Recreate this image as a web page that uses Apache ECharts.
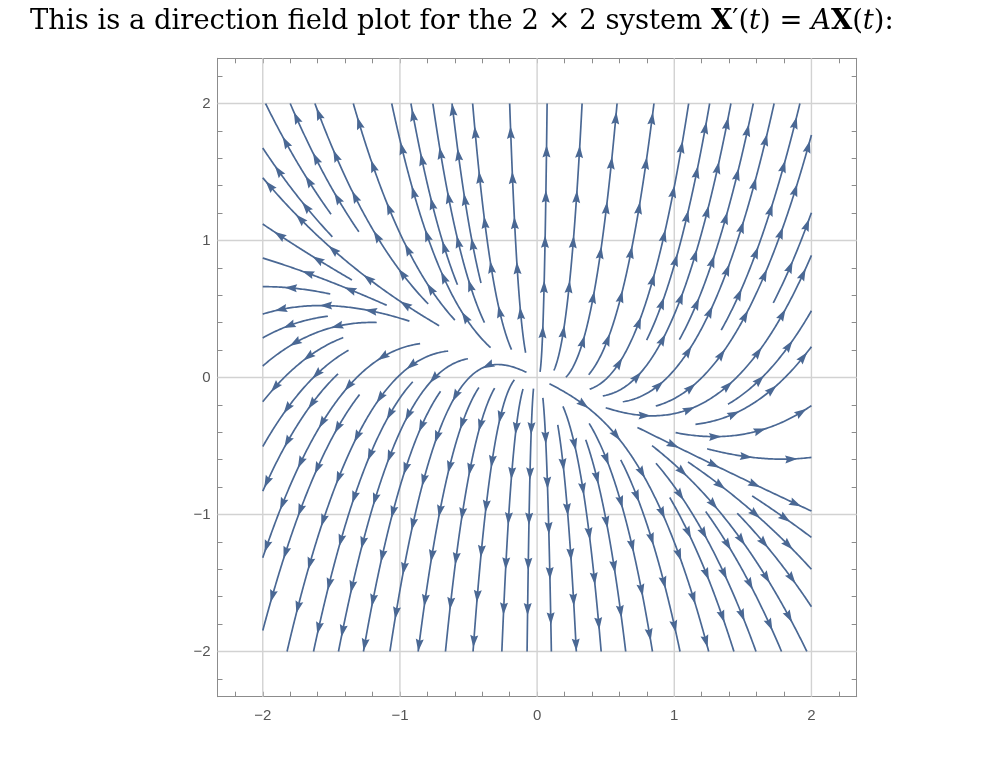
<!DOCTYPE html>
<html>
<head>
<meta charset="utf-8">
<script src="https://cdn.jsdelivr.net/npm/echarts@6/dist/echarts.min.js"></script>
<style>
html,body{margin:0;padding:0;background:#ffffff;}
#chart{width:988px;height:778px;}
</style>
</head>
<body>
<div id="chart"></div>
<script>
// ---- data: system matrix A of X'(t) = A X(t) ----
const matrixRow1 = [1, 0];
const matrixRow2 = [1, 3];
const plotRange = [-2, 2];
const axisTickLabels = [-2, -1, 0, 1, 2];

// streamline end points on the border of the plot range
const exitTopX    = [-1.98, -1.80, -1.62, -1.34, -1.06, -0.92, -0.76, -0.62, -0.47, -0.20,
                     0.073, 0.328, 0.583, 0.852, 1.105, 1.258, 1.413, 1.576, 1.728, 1.916];
const exitRightY  = [1.77, 1.203, 0.892, 0.487, 0.225, -0.205, -0.583, -0.975, -1.167, -1.40, -1.673];
const exitBottomX = [-1.823, -1.630, -1.448, -1.266, -1.073, -0.867, -0.668, -0.467, -0.257, -0.073,
                     0.104, 0.286, 0.467, 0.646, 0.841, 1.042, 1.251, 1.435, 1.596, 1.782, 1.967];
const exitLeftY   = [1.675, 1.458, 1.12, 0.872, 0.663, 0.463, 0.289, 0.084, -0.177, -0.504, -0.83, -1.315, -1.847];

// inner start points of the streamlines (null = not readable)
const startTop = [null, [-1.303, 1.06], [-0.794, 0.535], [-0.60, 0.42], [-0.334, 0.22], [-0.576, 0.68],
                  [-0.383, 0.40], [-0.407, 0.69], [-0.189, 0.20], [-0.08, 0.18],
                  [0.04, 0.04], [0.126, 0.05], [0.211, 0.004], null, [0.381, -0.075], null,
                  [0.478, -0.128], null, [0.623, -0.177], null];
const startRight = [[0.865, -0.206], null, [0.502, -0.22], [1.387, -0.189], [1.156, -0.341], [1.011, -0.40],
                    [1.241, -0.521], [0.732, -0.366], [1.568, -0.867], [1.096, -0.625], [1.459, -0.988]];
const startBottom = [[-0.649, 0.193], null, [-0.504, 0.145], null, [-0.076, 0.037], null, null,
                     [-0.165, -0.019], [-0.104, -0.085], [-0.042, -0.08], [0.041, -0.15], [0.15, -0.346],
                     [0.187, -0.213], [0.356, -0.455], [0.381, -0.334], [0.611, -0.60], [0.09, -0.045],
                     [0.962, -0.879], [0.865, -0.625], [1.217, -0.988], [0.841, -0.492]];
const startLeft = [[-1.484, 1.036], [-0.709, 0.386], [-1.351, 0.711], [-1.097, 0.53], [-1.508, 0.607], [-0.929, 0.415],
                   [-1.526, 0.44], [-1.169, 0.402], [-1.412, 0.289], null, null, [-0.855, 0.253], null];

// ---- styles ----
const streamColor = '#4a6894';
const frameColor = '#8c8c8c';
const gridColor = '#d2d2d2';
const axisMin = -2.33, axisMax = 2.33;

// ---- streamline construction (integrating the field of matrix A) ----
function vel(p) {
  return [matrixRow1[0] * p[0] + matrixRow1[1] * p[1], matrixRow2[0] * p[0] + matrixRow2[1] * p[1]];
}
function bdir(p) {
  const v = vel(p); const n = Math.hypot(v[0], v[1]) || 1;
  return [-v[0] / n, -v[1] / n];
}
function traceBack(p0) {
  const pts = [p0.slice()]; let p = p0.slice(); const h = 0.004;
  for (let i = 0; i < 6000; i++) {
    const k1 = bdir(p);
    const k2 = bdir([p[0] + h / 2 * k1[0], p[1] + h / 2 * k1[1]]);
    const k3 = bdir([p[0] + h / 2 * k2[0], p[1] + h / 2 * k2[1]]);
    const k4 = bdir([p[0] + h * k3[0], p[1] + h * k3[1]]);
    p = [p[0] + h / 6 * (k1[0] + 2 * k2[0] + 2 * k3[0] + k4[0]),
         p[1] + h / 6 * (k1[1] + 2 * k2[1] + 2 * k3[1] + k4[1])];
    pts.push(p);
    if (Math.hypot(p[0], p[1]) < 0.012) break;
  }
  return pts;
}

const defs = [];
exitTopX.forEach((x, i) => defs.push({ exit: [x, plotRange[1]], start: startTop[i] }));
exitRightY.forEach((y, i) => defs.push({ exit: [plotRange[1], y], start: startRight[i] }));
exitBottomX.forEach((x, i) => defs.push({ exit: [x, plotRange[0]], start: startBottom[i] }));
exitLeftY.forEach((y, i) => defs.push({ exit: [plotRange[0], y], start: startLeft[i] }));

const cell = 0.1;
const hash = new Map();
function addToHash(pts, id) {
  pts.forEach(p => {
    const key = Math.floor(p[0] / cell) + ',' + Math.floor(p[1] / cell);
    if (!hash.has(key)) hash.set(key, []);
    hash.get(key).push([p[0], p[1], id]);
  });
}
function nearOther(p, id, d) {
  const cx = Math.floor(p[0] / cell), cy = Math.floor(p[1] / cell);
  for (let i = -1; i <= 1; i++) for (let j = -1; j <= 1; j++) {
    const arr = hash.get((cx + i) + ',' + (cy + j));
    if (!arr) continue;
    for (const q of arr) if (q[2] !== id && Math.hypot(q[0] - p[0], q[1] - p[1]) < d) return true;
  }
  return false;
}

const streamlines = [];
defs.forEach((d, id) => {
  if (!d.start) return;
  const pts = traceBack(d.exit);
  let best = 0, bd = 1e9;
  pts.forEach((p, i) => { const dd = Math.hypot(p[0] - d.start[0], p[1] - d.start[1]); if (dd < bd) { bd = dd; best = i; } });
  const seg = pts.slice(0, best + 1);
  addToHash(seg, id);
  streamlines.push(seg.reverse());
});
defs.forEach((d, id) => {
  if (d.start) return;
  const pts = traceBack(d.exit);
  const acc = [pts[0]]; let len = 0;
  for (let i = 1; i < pts.length; i++) {
    len += Math.hypot(pts[i][0] - pts[i - 1][0], pts[i][1] - pts[i - 1][1]);
    if (len > 0.15 && nearOther(pts[i], id, 0.1)) break;
    acc.push(pts[i]);
  }
  addToHash(acc, id);
  streamlines.push(acc.reverse());
});

// arrowheads every fixed arc length from each streamline start
const arrowSpacing = 0.33;
const arrowData = [];
streamlines.forEach(pts => {
  let s = 0, next = arrowSpacing;
  for (let i = 1; i < pts.length; i++) {
    const dx = pts[i][0] - pts[i - 1][0], dy = pts[i][1] - pts[i - 1][1];
    const l = Math.hypot(dx, dy);
    while (s + l >= next) {
      const t = (next - s) / l;
      arrowData.push([pts[i - 1][0] + dx * t, pts[i - 1][1] + dy * t, dx / l, dy / l]);
      next += arrowSpacing;
    }
    s += l;
  }
});

const lineData = streamlines.map(pts => ({ coords: pts.filter((p, i) => i % 3 === 0 || i === pts.length - 1) }));

const minorTicks = [];
for (let v = -22; v <= 22; v += 2) minorTicks.push(v / 10);
const gridData = axisTickLabels.map(v => [v, 0]).concat(axisTickLabels.map(v => [v, 1]));

const fmt = v => (v < 0 ? '\u2212' + Math.abs(v) : String(v));
function ax(pos, labels, margin) {
  return {
    type: 'value', position: pos, min: axisMin, max: axisMax, gridIndex: 0,
    axisLine: { show: true, onZero: false, lineStyle: { color: frameColor, width: 1 } },
    axisTick: { show: true, inside: true, length: 5, customValues: minorTicks, lineStyle: { color: frameColor, width: 1 } },
    axisLabel: { show: labels, customValues: axisTickLabels, formatter: fmt, color: '#555555',
                 fontSize: 15, fontFamily: 'Liberation Sans', margin: margin },
    splitLine: { show: false }
  };
}

const titleFont = 'DejaVu Serif';
const titleSize = 27.4;
const chart = echarts.init(document.getElementById('chart'), null, { renderer: 'canvas' });
chart.setOption({
  animation: false,
  backgroundColor: '#ffffff',
  title: {
    left: 25, top: 3,
    text: '{n|This is a direction field plot for the 2 \u00d7 2 system }{b|X}{n|\u2032(}{i|t}{n|) = }{i|A}{b|X}{n|(}{i|t}{n|):}',
    textStyle: {
      fontWeight: 'normal',
      rich: {
        n: { fontFamily: titleFont, fontSize: titleSize, color: '#000', fontWeight: 'normal' },
        b: { fontFamily: titleFont, fontSize: titleSize, color: '#000', fontWeight: 'bold' },
        i: { fontFamily: titleFont, fontSize: titleSize, color: '#000', fontWeight: 'normal', fontStyle: 'italic' }
      }
    }
  },
  grid: { left: 217.5, top: 58.3, width: 639.2, height: 638.4 },
  xAxis: [ax('bottom', true, 12), ax('top', false, 8)],
  yAxis: [ax('left', true, 7), ax('right', false, 8)],
  series: [
    {
      type: 'custom', name: 'grid', silent: true, z: 1, xAxisIndex: 0, yAxisIndex: 0,
      data: gridData, encode: { x: 0 },
      renderItem: function (params, api) {
        const v = api.value(0), o = api.value(1);
        const a = o === 0 ? api.coord([v, axisMin]) : api.coord([axisMin, v]);
        const b = o === 0 ? api.coord([v, axisMax]) : api.coord([axisMax, v]);
        return { type: 'line', shape: { x1: a[0], y1: a[1], x2: b[0], y2: b[1] },
                 style: { stroke: gridColor, lineWidth: 1.4 } };
      }
    },
    {
      type: 'lines', name: 'streams', coordinateSystem: 'cartesian2d', polyline: true, silent: true, z: 3,
      xAxisIndex: 0, yAxisIndex: 0,
      data: lineData,
      lineStyle: { color: streamColor, width: 1.7, opacity: 1 }
    },
    {
      type: 'custom', name: 'arrows', silent: true, z: 4, xAxisIndex: 0, yAxisIndex: 0,
      data: arrowData, encode: { x: 0, y: 1 },
      renderItem: function (params, api) {
        const x = api.value(0), y = api.value(1), dx = api.value(2), dy = api.value(3);
        const p = api.coord([x, y]);
        const q = api.coord([x + dx * 0.01, y + dy * 0.01]);
        let ux = q[0] - p[0], uy = q[1] - p[1]; const n = Math.hypot(ux, uy) || 1; ux /= n; uy /= n;
        const len = 11.5, hw = 4;
        const bx = p[0] - ux * len, by = p[1] - uy * len;
        return { type: 'polygon',
                 shape: { points: [[p[0] + ux, p[1] + uy], [bx - uy * hw, by + ux * hw], [p[0] - ux * len * 0.85, p[1] - uy * len * 0.85], [bx + uy * hw, by - ux * hw]] },
                 style: { fill: streamColor } };
      }
    }
  ]
});
</script>
</body>
</html>
